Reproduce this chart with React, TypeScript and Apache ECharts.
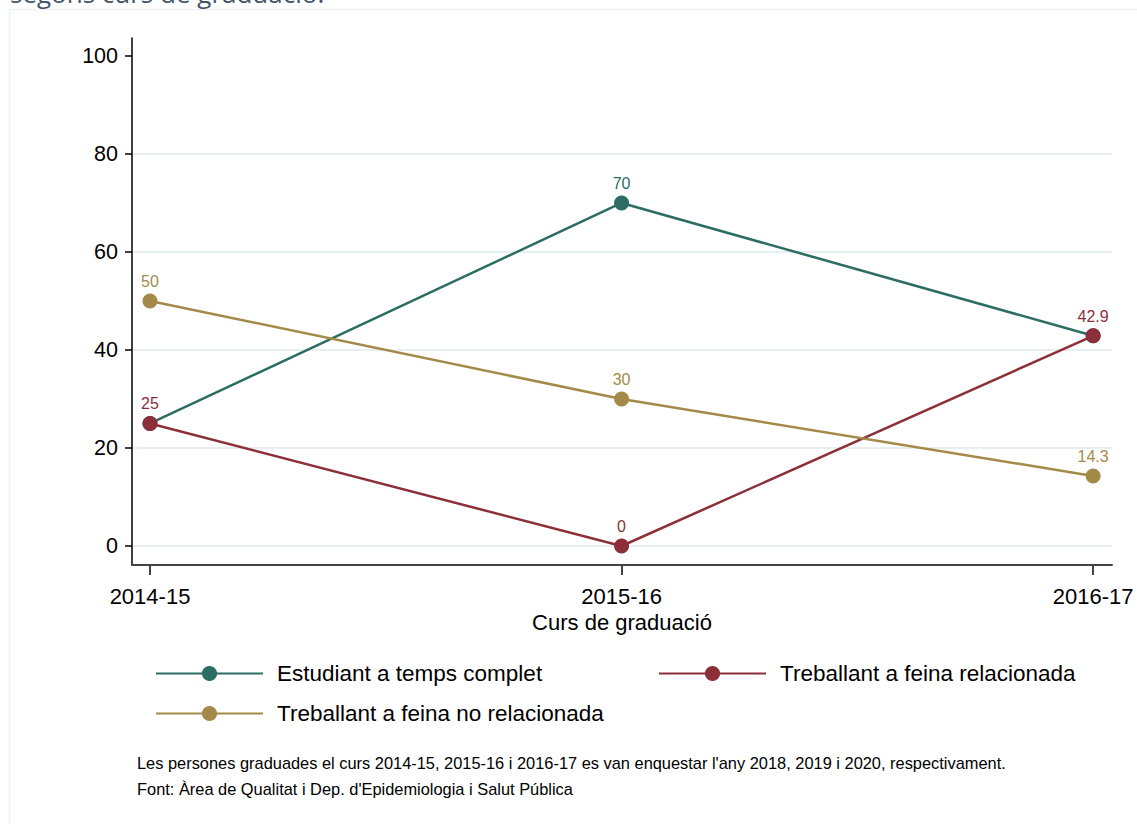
import React, { useEffect, useRef } from "react";
import * as echarts from "echarts";

const categories = ["2014-15", "2015-16", "2016-17"];
const seriesNames = [
  "Estudiant a temps complet",
  "Treballant a feina relacionada",
  "Treballant a feina no relacionada",
];
const estudiant = [25, 70, 42.9];
const relacionada = [25, 0, 42.9];
const noRelacionada = [50, 30, 14.3];
const yTicks = [0, 20, 40, 60, 80, 100];
const colors = ["#2b6c63", "#8c2f38", "#a48a48"];

const FONT = "'Liberation Sans', Arial, sans-serif";

export default function App() {
  const ref = useRef<HTMLDivElement>(null);
  useEffect(() => {
    if (!ref.current) return;
    const chart = echarts.init(ref.current, null, { renderer: "svg" });
    const values = [estudiant, relacionada, noRelacionada];
    const series = values.map((vals, si) => ({
      type: "line",
      name: seriesNames[si],
      data: vals.map((v, i) => {
        const hidden = si === 0 && relacionada[i] === v;
        return hidden ? { value: [i, v], label: { show: false } } : { value: [i, v] };
      }),
      symbol: "circle",
      symbolSize: 15,
      lineStyle: { color: colors[si], width: 2.5 },
      itemStyle: { color: colors[si] },
      label: {
        show: true,
        position: "top",
        distance: 4,
        fontSize: 16,
        fontFamily: FONT,
        color: colors[si],
        formatter: (p: any) => String(p.value[1]),
      },
      z: 2 + si,
    }));
    const legendPos = [
      { left: 155, top: 662 },
      { left: 658, top: 662 },
      { left: 155, top: 702 },
    ];
    chart.setOption({
      animation: false,
      backgroundColor: "#ffffff",
      grid: { left: 132, right: 25, top: 38, bottom: 259, containLabel: false },
      xAxis: {
        type: "value",
        min: -0.0382,
        max: 2.04,
        name: "Curs de graduació",
        nameLocation: "middle",
        nameGap: 42,
        nameTextStyle: { fontSize: 22, fontFamily: FONT, color: "#000" },
        axisLine: { show: true, onZero: false, lineStyle: { color: "#444", width: 2 } },
        axisTick: {
          show: true,
          customValues: [0, 1, 2],
          length: 10,
          lineStyle: { color: "#444", width: 2 },
        },
        axisLabel: {
          customValues: [0, 1, 2],
          formatter: (v: number) => categories[Math.round(v)] ?? "",
          fontSize: 22,
          fontFamily: FONT,
          color: "#000",
          margin: 20,
        },
        splitLine: { show: false },
      },
      yAxis: {
        type: "value",
        min: -3.88,
        max: 103.67,
        axisLine: { show: true, onZero: false, lineStyle: { color: "#000", width: 1.5 } },
        axisTick: {
          show: true,
          customValues: yTicks,
          length: 7,
          lineStyle: { color: "#000", width: 1.5 },
        },
        axisLabel: {
          customValues: yTicks,
          fontSize: 21.5,
          fontFamily: FONT,
          color: "#000",
          margin: 14,
        },
        splitLine: {
          show: true,
          lineStyle: {
            color: ["#e6eff1", "#e6eff1", "#e6eff1", "#e6eff1", "#e6eff1", "rgba(0,0,0,0)"],
            width: 2,
          },
        },
      },
      legend: seriesNames.map((n, i) => ({
        data: [n],
        left: legendPos[i].left,
        top: legendPos[i].top,
        itemWidth: 107,
        itemHeight: 19,
        padding: 0,
        textStyle: {
          fontSize: 22.5,
          fontFamily: FONT,
          color: "#000",
          padding: [0, 0, 0, 9],
        },
        selectedMode: false,
      })),
      graphic: [
        {
          type: "rect",
          shape: { x: 9.5, y: 9.5, width: 1140, height: 830 },
          style: { fill: "none", stroke: "#eef2f2", lineWidth: 1.5 },
          z: -10,
        },
        {
          type: "text",
          x: 10,
          y: 6,
          style: {
            text: "segons curs de graduació.",
            fontSize: 26,
            fontFamily: "'Open Sans', sans-serif",
            fill: "#44546a",
            verticalAlign: "bottom",
          },
        },
        {
          type: "text",
          x: 137,
          y: 763,
          style: {
            text: "Les persones graduades el curs 2014-15, 2015-16 i 2016-17 es van enquestar l'any 2018, 2019 i 2020, respectivament.",
            fontSize: 16.4,
            fontFamily: FONT,
            fill: "#000",
            verticalAlign: "middle",
          },
        },
        {
          type: "text",
          x: 137,
          y: 789,
          style: {
            text: "Font: Àrea de Qualitat i Dep. d'Epidemiologia i Salut Pública",
            fontSize: 16.4,
            fontFamily: FONT,
            fill: "#000",
            verticalAlign: "middle",
          },
        },
      ],
      series,
    });
    return () => chart.dispose();
  }, []);
  return (
    <div
      ref={ref}
      style={{ position: "fixed", left: 0, top: 0, width: 1137, height: 824 }}
    />
  );
}
